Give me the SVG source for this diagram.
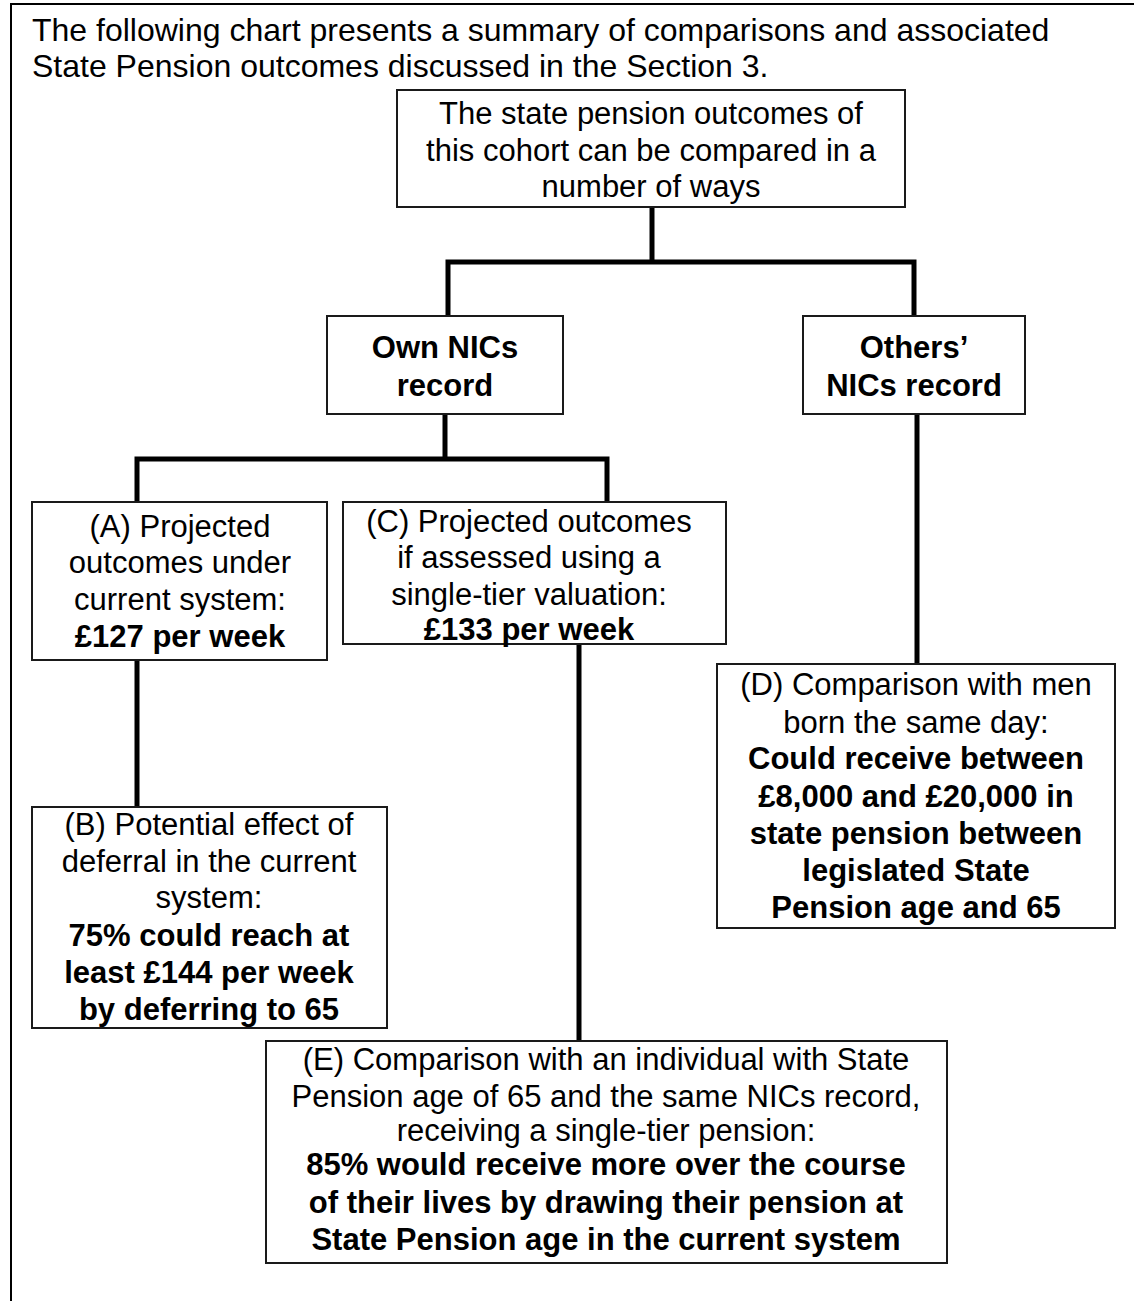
<svg xmlns="http://www.w3.org/2000/svg" width="1134" height="1301" viewBox="0 0 1134 1301">
<style>
text{font-family:"Liberation Sans",Arial,Helvetica,sans-serif;font-size:31px;fill:#000;text-anchor:middle}
.b{font-weight:bold}
.title{font-size:32px;text-anchor:start}
.box{fill:#fff;stroke:#1a1a1a;stroke-width:2}
.conn{fill:none;stroke:#000;stroke-width:5;stroke-linejoin:miter;stroke-linecap:butt}
</style>
<rect x="0" y="0" width="1134" height="1301" fill="#fff"/>
<path d="M11,1301 V4 H1134" fill="none" stroke="#000" stroke-width="2"/>
<g id="title">
<text class="title" x="32" y="41">The following chart presents a summary of comparisons and associated</text>
<text class="title" x="32" y="77">State Pension outcomes discussed in the Section 3.</text>
</g>
<g id="connectors">
<path class="conn" d="M652,207 V262"/>
<path class="conn" d="M448,316 V262 H914 V316"/>
<path class="conn" d="M445,414 V459"/>
<path class="conn" d="M137,502 V459 H607 V502"/>
<path class="conn" d="M137,660 V807"/>
<path class="conn" d="M579,644 V1041"/>
<path class="conn" d="M917,414 V664"/>
</g>
<g id="root">
<rect class="box" x="397" y="90" width="508" height="117"/>
<text x="651" y="124">The state pension outcomes of</text>
<text x="651" y="161">this cohort can be compared in a</text>
<text x="651" y="197">number of ways</text>
</g>
<g id="own">
<rect class="box" x="327" y="316" width="236" height="98"/>
<text class="b" x="445" y="358">Own NICs</text>
<text class="b" x="445" y="396">record</text>
</g>
<g id="others">
<rect class="box" x="803" y="316" width="222" height="98"/>
<text class="b" x="914" y="358">Others’</text>
<text class="b" x="914" y="396">NICs record</text>
</g>
<g id="nodeA">
<rect class="box" x="32" y="502" width="295" height="158"/>
<text x="180" y="537">(A) Projected</text>
<text x="180" y="573">outcomes under</text>
<text x="180" y="610">current system:</text>
<text class="b" x="180" y="647">£127 per week</text>
</g>
<g id="nodeC">
<rect class="box" x="343" y="502" width="383" height="142"/>
<text x="529" y="532">(C) Projected outcomes</text>
<text x="529" y="568">if assessed using a</text>
<text x="529" y="605">single-tier valuation:</text>
<text class="b" x="529" y="640">£133 per week</text>
</g>
<g id="nodeD">
<rect class="box" x="717" y="664" width="398" height="264"/>
<text x="916" y="695">(D) Comparison with men</text>
<text x="916" y="733">born the same day:</text>
<text class="b" x="916" y="769">Could receive between</text>
<text class="b" x="916" y="807">£8,000 and £20,000 in</text>
<text class="b" x="916" y="844">state pension between</text>
<text class="b" x="916" y="881">legislated State</text>
<text class="b" x="916" y="918">Pension age and 65</text>
</g>
<g id="nodeB">
<rect class="box" x="32" y="807" width="355" height="221"/>
<text x="209" y="835">(B) Potential effect of</text>
<text x="209" y="872">deferral in the current</text>
<text x="209" y="908">system:</text>
<text class="b" x="209" y="946">75% could reach at</text>
<text class="b" x="209" y="983">least £144 per week</text>
<text class="b" x="209" y="1020">by deferring to 65</text>
</g>
<g id="nodeE">
<rect class="box" x="266" y="1041" width="681" height="222"/>
<text x="606" y="1070">(E) Comparison with an individual with State</text>
<text x="606" y="1107">Pension age of 65 and the same NICs record,</text>
<text x="606" y="1141">receiving a single-tier pension:</text>
<text class="b" x="606" y="1175">85% would receive more over the course</text>
<text class="b" x="606" y="1213">of their lives by drawing their pension at</text>
<text class="b" x="606" y="1250">State Pension age in the current system</text>
</g>
</svg>
